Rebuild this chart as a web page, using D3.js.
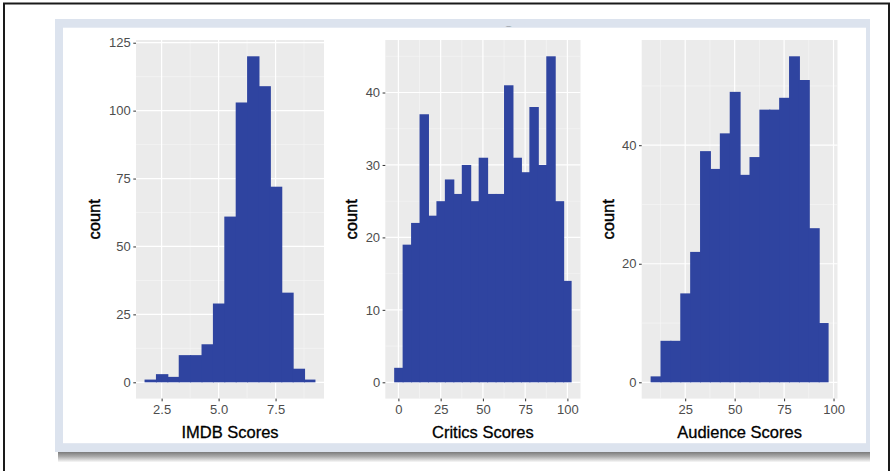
<!DOCTYPE html>
<html>
<head>
<meta charset="utf-8">
<script src="https://cdn.jsdelivr.net/npm/d3@7"></script>
<style>
  html, body { margin: 0; padding: 0; background: #ffffff; }
  svg { display: block; font-family: "Liberation Sans", Arial, Helvetica, sans-serif; }
</style>
</head>
<body>
<svg id="chart" width="891" height="471"></svg>
<script>
// Histogram bins: bin centres and counts for each score distribution
const imdbCenters = [2.0, 2.5, 3.0, 3.5, 4.0, 4.5, 5.0, 5.5, 6.0, 6.5, 7.0, 7.5, 8.0, 8.5, 9.0];
const imdbCounts  = [1, 3, 2, 10, 10, 14, 29, 61, 103, 120, 109, 72, 33, 5, 1];
const imdbBinWidth = 0.5;

const criticsCenters = [0, 5, 10, 15, 20, 25, 30, 35, 40, 45, 50, 55, 60, 65, 70, 75, 80, 85, 90, 95, 100];
const criticsCounts  = [2, 19, 22, 37, 23, 25, 28, 26, 30, 25, 31, 26, 26, 41, 31, 29, 38, 30, 45, 25, 14];
const criticsBinWidth = 5;

const audienceCenters = [10, 15, 20, 25, 30, 35, 40, 45, 50, 55, 60, 65, 70, 75, 80, 85, 90, 95];
const audienceCounts  = [1, 7, 7, 15, 22, 39, 36, 42, 49, 35, 38, 46, 46, 48, 55, 51, 26, 10];
const audienceBinWidth = 5;

// Axis ticks
const imdbXTicks = [2.5, 5.0, 7.5];
const imdbYTicks = [0, 25, 50, 75, 100, 125];
const criticsXTicks = [0, 25, 50, 75, 100];
const criticsYTicks = [0, 10, 20, 30, 40];
const audienceXTicks = [25, 50, 75, 100];
const audienceYTicks = [0, 20, 40];

const xTitles = ["IMDB Scores", "Critics Scores", "Audience Scores"];
const yTitle = "count";

const svg = d3.select("#chart");
const BAR = "#2f44a0";
const PANEL_BG = "#ebebeb";
const FONT = "'Liberation Sans', Arial, Helvetica, sans-serif";

// ---- page frame ----
svg.append("rect").attr("x", 4).attr("y", 3.5).attr("width", 885).attr("height", 480)
  .attr("fill", "#ffffff").attr("stroke", "#1a1a1a").attr("stroke-width", 2);

const defs = svg.append("defs");
const shadow = defs.append("linearGradient").attr("id", "shadow")
  .attr("x1", 0).attr("y1", 0).attr("x2", 0).attr("y2", 1);
shadow.append("stop").attr("offset", "0%").attr("stop-color", "#767676");
shadow.append("stop").attr("offset", "45%").attr("stop-color", "#ababab");
shadow.append("stop").attr("offset", "100%").attr("stop-color", "#ffffff");

svg.append("rect").attr("x", 58).attr("y", 451.5).attr("width", 812).attr("height", 11)
  .attr("fill", "url(#shadow)");
svg.append("rect").attr("x", 55).attr("y", 19).attr("width", 815).attr("height", 433)
  .attr("fill", "#dce3ee");
svg.append("rect").attr("x", 63).attr("y", 27.7).attr("width", 803).attr("height", 415.5)
  .attr("fill", "#ffffff");

// clipped tail of the figure title, cut by the frame
defs.append("clipPath").attr("id", "titleClip")
  .append("rect").attr("x", 440).attr("y", 26.8).attr("width", 140).attr("height", 3);
svg.append("text").attr("clip-path", "url(#titleClip)")
  .attr("x", 509).attr("y", 24).attr("text-anchor", "middle")
  .attr("font-size", 16).attr("font-weight", "bold").attr("fill", "#111")
  .text("g");

// ---- panels ----
const panelTop = 40, panelBottom = 398.6;
const panels = [
  { centers: imdbCenters, counts: imdbCounts, bw: imdbBinWidth,
    xTicks: imdbXTicks, yTicks: imdbYTicks, xFmt: d3.format(".1f"),
    left: 136, right: 324, yTitleX: 94, title: xTitles[0] },
  { centers: criticsCenters, counts: criticsCounts, bw: criticsBinWidth,
    xTicks: criticsXTicks, yTicks: criticsYTicks, xFmt: d3.format("d"),
    left: 385.3, right: 580.5, yTitleX: 351, title: xTitles[1] },
  { centers: audienceCenters, counts: audienceCounts, bw: audienceBinWidth,
    xTicks: audienceXTicks, yTicks: audienceYTicks, xFmt: d3.format("d"),
    left: 641.7, right: 837.5, yTitleX: 608, title: xTitles[2] }
];

panels.forEach(p => {
  // data ranges with 5% expansion on each side
  const xMin = d3.min(p.centers) - p.bw / 2, xMax = d3.max(p.centers) + p.bw / 2;
  const xPad = (xMax - xMin) * 0.05;
  const yMax = d3.max(p.counts), yPad = yMax * 0.05;

  const x = d3.scaleLinear().domain([xMin - xPad, xMax + xPad]).range([p.left, p.right]);
  const y = d3.scaleLinear().domain([-yPad, yMax + yPad]).range([panelBottom, panelTop]);

  const g = svg.append("g");
  g.append("rect").attr("x", p.left).attr("y", panelTop)
    .attr("width", p.right - p.left).attr("height", panelBottom - panelTop)
    .attr("fill", PANEL_BG);

  // minor grid lines halfway between major ticks
  const xStep = p.xTicks[1] - p.xTicks[0];
  const yStep = p.yTicks[1] - p.yTicks[0];
  const [dx0, dx1] = x.domain(), [dy0, dy1] = y.domain();
  const xMinor = d3.range(p.xTicks[0] - xStep * 1.5, dx1, xStep).filter(v => v > dx0 && v < dx1);
  const yMinor = d3.range(p.yTicks[0] - yStep * 1.5, dy1, yStep).filter(v => v > dy0 && v < dy1);

  g.selectAll(".xminor").data(xMinor).join("line")
    .attr("x1", d => x(d)).attr("x2", d => x(d)).attr("y1", panelTop).attr("y2", panelBottom)
    .attr("stroke", "#f7f7f7").attr("stroke-width", 0.6);
  g.selectAll(".yminor").data(yMinor).join("line")
    .attr("y1", d => y(d)).attr("y2", d => y(d)).attr("x1", p.left).attr("x2", p.right)
    .attr("stroke", "#f7f7f7").attr("stroke-width", 0.6);
  g.selectAll(".xmajor").data(p.xTicks).join("line")
    .attr("x1", d => x(d)).attr("x2", d => x(d)).attr("y1", panelTop).attr("y2", panelBottom)
    .attr("stroke", "#ffffff").attr("stroke-width", 1.2);
  g.selectAll(".ymajor").data(p.yTicks).join("line")
    .attr("y1", d => y(d)).attr("y2", d => y(d)).attr("x1", p.left).attr("x2", p.right)
    .attr("stroke", "#ffffff").attr("stroke-width", 1.2);

  // bars (each slightly widened so neighbours join without seams)
  g.selectAll(".bar").data(p.centers.map((c, i) => ({ c, n: p.counts[i] }))).join("rect")
    .attr("x", d => x(d.c - p.bw / 2))
    .attr("width", (d, i) => x(d.c + p.bw / 2) - x(d.c - p.bw / 2) + (i < p.centers.length - 1 ? 1 : 0))
    .attr("y", d => y(d.n))
    .attr("height", d => y(0) - y(d.n))
    .attr("fill", BAR);

  // axes
  const xAxis = d3.axisBottom(x).tickValues(p.xTicks).tickFormat(p.xFmt)
    .tickSizeInner(2.7).tickSizeOuter(0).tickPadding(3);
  const yAxis = d3.axisLeft(y).tickValues(p.yTicks).tickFormat(d3.format("d"))
    .tickSizeInner(2.7).tickSizeOuter(0).tickPadding(2.5);

  const xa = g.append("g").attr("transform", `translate(0,${panelBottom})`).call(xAxis);
  const ya = g.append("g").attr("transform", `translate(${p.left},0)`).call(yAxis);
  [xa, ya].forEach(a => {
    a.select(".domain").remove();
    a.selectAll(".tick line").attr("stroke", "#333333").attr("stroke-width", 1);
    a.selectAll(".tick text").attr("fill", "#4d4d4d").attr("font-size", 13)
      .attr("font-family", FONT);
  });

  // axis titles
  g.append("text").attr("x", (p.left + p.right) / 2).attr("y", 438)
    .attr("text-anchor", "middle").attr("font-size", 16.5).attr("fill", "#000")
    .attr("stroke", "#000").attr("stroke-width", 0.3)
    .text(p.title);
  g.append("text")
    .attr("transform", `translate(${p.yTitleX},${(panelTop + panelBottom) / 2}) rotate(-90)`)
    .attr("text-anchor", "middle").attr("dy", "0.35em")
    .attr("font-size", 16.5).attr("fill", "#000")
    .attr("stroke", "#000").attr("stroke-width", 0.45)
    .text(yTitle);
});
</script>
</body>
</html>
